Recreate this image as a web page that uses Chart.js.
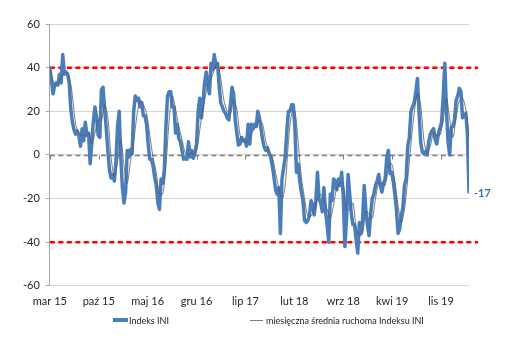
<!DOCTYPE html>
<html><head><meta charset="utf-8">
<script src="https://cdn.jsdelivr.net/npm/chart.js@4/dist/chart.umd.min.js"></script>
<style>
html,body{margin:0;padding:0;background:#fff;}
#wrap{position:relative;width:520px;height:338px;}
#c{position:absolute;left:0;top:0;}
.leg{position:absolute;top:314px;height:12px;font:9px Lato, sans-serif;color:#1a1a1a;white-space:nowrap;display:flex;align-items:center;}
.leg span.l{display:inline-block;}
</style></head>
<body><div id="wrap"><canvas id="c" width="520" height="338"></canvas>
<div class="leg" style="left:113px"><span class="l" style="width:15px;height:4px;background:#4a7ebb;margin-right:1px"></span>Indeks INI</div>
<div class="leg" style="left:250px"><span class="l" style="width:13px;height:1px;background:#7f7f7f;margin-right:3px"></span>miesięczna średnia ruchoma Indeksu INI</div>
</div>
<script>
// x-axis tick labels (every 7 months, starting Mar 2015)
const xTickLabels = ['mar 15','paź 15','maj 16','gru 16','lip 17','lut 18','wrz 18','kwi 19','lis 19'];
const monthsPerTick = 7;
const monthsSpan = 60; // Mar 2015 .. Mar 2020

// weekly INI index values
const ini = [
 40,34,28,32,33,32,37,33,46,37,
 38,37,33,21,15,11.5,9.5,11,9,4,
 12,6.5,15,9,10,-4,5,15.7,22,17,
 9,8,30,31,21,12,2,-7,-10.6,-9,
 -12,-3,13,20,-1,-15,-22,-17,2,-1,
 2.5,0.5,20,27,25,26,22,24,18,18,
 14,5,-2,-2,-5,-10,-14,-22,-25,-11,
 -13,-7,13,27,29,29,22,22,10,14,
 7.5,6,2,-2,-1.5,-2,6,-1,2,-1.5,
 1,5,20,26,17,24,33,38,32,28,
 42,39,46,41,42,32,24,22,20,19,
 17,16,23,31,28,16,10,4.5,5,8,
 6.5,7,4,14,5,14,12,14,13,20,
 17,12,7,3.5,2,3.3,0.4,-1,-5,-10,
 -16,-18,-15,-36,-11,-6,-1,11,20,20,
 23,23,12.5,-8,-4.3,-12,-17,-21,-30,-31,
 -30,-28,-21,-23,-27.5,-21,-8,-20,-22,-26,
 -15,-26,-32,-40,-18,-21,-11,-12,-16,-11,
 -14,-8,-19,-42,-30,-9,-18,-27,-32,-32,
 -39,-45,-31,-36,-30,-14,-25,-32,-37,-27,
 -20,-18,-14,-12,-9,-14,-17,-13,-11,-1,
 2,-8.5,-8,-12,-18,-25,-36,-34,-28,-24,
 -14,-11,4,8,20,22,24,29,35,20,
 6,1.5,0.5,1.5,0,6,9.5,11,12,7,
 5,9.7,12.5,15,27,42,21,6,0,12.5,
 13,16,25,27,30.5,29,17,18,19,10,
 -17
];

// monthly moving average, read every 2 weeks
const maStepWeeks = 2;
const movingAvg = [
 40,34,32,34,37,38,36,27,14,10,
 9,9,10,5,10,16,16,23,17,-1,
 -10,-3,7,-5,-13,-3,6,18,25,23,
 19,9,-1,-8,-18,-18,-5,16,27,21,
 13,7,1,0,1,0,6,17,25,32,
 35,39,42,35,25,20,19,25,21,9,
 6,6,8,11,13,16,14,6,2,-1,
 -8,-15,-20,-14,6,19,20,6,-10,-20,
 -28,-28,-25,-20,-18,-21,-25,-29,-23,-15,
 -13,-13,-25,-25,-22,-33,-37,-36,-26,-27,
 -29,-20,-13,-13,-14,-6,-4,-12,-23,-31,
 -25,-11,5,19,28,23,7,1,4,10,
 9,9,16,26,17,8,17,25,26,21,
 8
];

const refLevels = [40, -40];
const zeroLevel = 0;
const lastValueLabel = '-17';

const nW = ini.length;
const weeksPerMonth = (nW - 1) / monthsSpan;

const refPlugin = {
  id: 'refs',
  beforeDatasetsDraw(chart) {
    const {ctx, chartArea: a, scales: {x, y}} = chart;
    ctx.save();
    const y0 = Math.round(y.getPixelForValue(zeroLevel)) + 0.5;
    ctx.strokeStyle = '#808080';
    ctx.lineWidth = 1.5;
    ctx.setLineDash([5, 3.5]);
    ctx.beginPath(); ctx.moveTo(a.left, y0); ctx.lineTo(a.right, y0); ctx.stroke();
    ctx.setLineDash([]);
    ctx.lineWidth = 1;
    x.ticks.forEach(t => {
      const px = Math.round(x.getPixelForValue(t.value)) + 0.5;
      ctx.beginPath(); ctx.moveTo(px, y0); ctx.lineTo(px, y0 + 4); ctx.stroke();
    });
    ctx.strokeStyle = '#ff0000';
    ctx.lineWidth = 2.5;
    ctx.setLineDash([5, 3.5]);
    refLevels.forEach(v => {
      const py = y.getPixelForValue(v);
      ctx.beginPath(); ctx.moveTo(a.left, py); ctx.lineTo(a.right + 9, py); ctx.stroke();
    });
    ctx.restore();
  },
  afterDatasetsDraw(chart) {
    const {ctx, scales: {x, y}} = chart;
    const last = nW - 1;
    ctx.save();
    ctx.font = 'bold 11px Lato, sans-serif';
    ctx.fillStyle = '#2e75b6';
    ctx.textBaseline = 'middle';
    ctx.fillText(lastValueLabel, x.getPixelForValue(last) + 5, y.getPixelForValue(ini[last]) + 1);
    ctx.restore();
  }
};

new Chart(document.getElementById('c'), {
  type: 'line',
  data: {
    datasets: [
      {
        label: 'Indeks INI',
        data: ini.map((v, i) => ({x: i, y: v})),
        borderColor: '#4a7ebb',
        borderWidth: 3.5,
        pointRadius: 0,
        tension: 0,
        borderJoinStyle: 'round',
        borderCapStyle: 'round',
        order: 1
      },
      {
        label: 'miesięczna średnia ruchoma Indeksu INI',
        data: movingAvg.map((v, k) => ({x: k * maStepWeeks, y: v})),
        borderColor: '#5a5a5a',
        borderWidth: 0.8,
        pointRadius: 0,
        tension: 0.3,
        order: 0
      }
    ]
  },
  options: {
    responsive: false,
    animation: false,
    devicePixelRatio: 1,
    layout: {padding: {left: 17, right: 51, top: 24, bottom: 21}},
    plugins: {legend: {display: false}, tooltip: {enabled: false}},
    scales: {
      x: {
        type: 'linear',
        min: 0,
        max: nW - 1,
        grid: {display: false, drawTicks: false},
        border: {display: false},
        afterBuildTicks: s => { s.ticks = xTickLabels.map((l, k) => ({value: k * monthsPerTick * weeksPerMonth})); },
        ticks: {
          autoSkip: false,
          maxRotation: 0,
          padding: 9,
          color: '#262626',
          font: {family: 'Lato', size: 11},
          callback: (v, idx) => xTickLabels[idx]
        }
      },
      y: {
        min: -60,
        max: 60,
        ticks: {stepSize: 20, padding: 6, color: '#262626', font: {family: 'Lato', size: 11}},
        grid: {color: '#d4d4d4', tickLength: 4, tickColor: '#a6a6a6'},
        border: {color: '#a6a6a6'}
      }
    }
  },
  plugins: [refPlugin]
});
</script>
</body></html>
